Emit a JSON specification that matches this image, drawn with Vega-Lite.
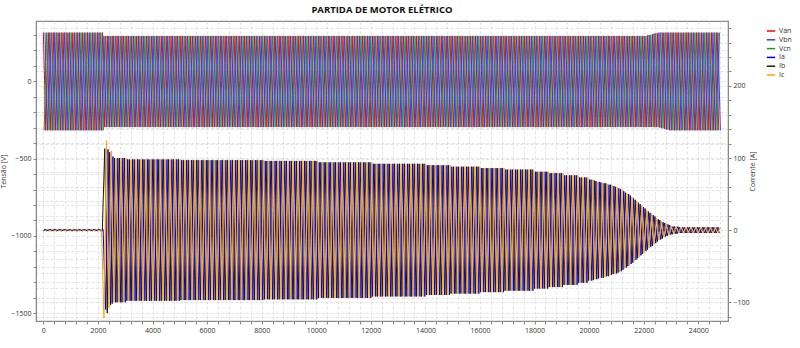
{
"$schema": "https://vega.github.io/schema/vega-lite/v6.json",
"width": 692, "height": 300,
"autosize": {"type": "none"},
"padding": {"left": 36, "top": 21, "right": 72, "bottom": 27},
"background": "white",
"title": {"text": "PARTIDA DE MOTOR ELÉTRICO", "fontSize": 9.5, "font": "Open Sans", "fontWeight": "bold", "color": "#111", "anchor": "middle", "offset": 7},
"config": {
  "view": {"stroke": "#8a8a8a", "strokeWidth": 1.2},
  "axis": {"labelFont": "Open Sans", "labelFontSize": 7, "labelColor": "#333", "titleFont": "Open Sans", "titleFontSize": 7, "titleFontWeight": "normal", "titleColor": "#333", "tickColor": "#8a8a8a", "tickSize": 3, "domainColor": "#8a8a8a", "gridColor": "#dcdcdc", "gridDash": [3, 2], "gridWidth": 0.8, "labelOverlap": false, "labelFlush": false, "labelPadding": 2}
},
"data": {"values": [
{"t":0,"Van":315,"Ib":-1},{"t":30,"Vcn":-317,"Ia":1},{"t":60,"Vbn":315,"Ic":-1},{"t":90,"Van":-317,"Ib":1},{"t":120,"Vcn":315,"Ia":-1},{"t":150,"Vbn":-317,"Ic":1},
{"t":180,"Van":315,"Ib":-1},{"t":210,"Vcn":-317,"Ia":1},{"t":240,"Vbn":315,"Ic":-1},{"t":270,"Van":-317,"Ib":1},{"t":300,"Vcn":315,"Ia":-1},{"t":330,"Vbn":-317,"Ic":1},
{"t":360,"Van":315,"Ib":-1},{"t":390,"Vcn":-317,"Ia":1},{"t":420,"Vbn":315,"Ic":-1},{"t":450,"Van":-317,"Ib":1},{"t":480,"Vcn":315,"Ia":-1},{"t":510,"Vbn":-317,"Ic":1},
{"t":540,"Van":315,"Ib":-1},{"t":570,"Vcn":-317,"Ia":1},{"t":600,"Vbn":315,"Ic":-1},{"t":630,"Van":-317,"Ib":1},{"t":660,"Vcn":315,"Ia":-1},{"t":690,"Vbn":-317,"Ic":1},
{"t":720,"Van":315,"Ib":-1},{"t":750,"Vcn":-317,"Ia":1},{"t":780,"Vbn":315,"Ic":-1},{"t":810,"Van":-317,"Ib":1},{"t":840,"Vcn":315,"Ia":-1},{"t":870,"Vbn":-317,"Ic":1},
{"t":900,"Van":315,"Ib":-1},{"t":930,"Vcn":-317,"Ia":1},{"t":960,"Vbn":315,"Ic":-1},{"t":990,"Van":-317,"Ib":1},{"t":1020,"Vcn":315,"Ia":-1},{"t":1050,"Vbn":-317,"Ic":1},
{"t":1080,"Van":315,"Ib":-1},{"t":1110,"Vcn":-317,"Ia":1},{"t":1140,"Vbn":315,"Ic":-1},{"t":1170,"Van":-317,"Ib":1},{"t":1200,"Vcn":315,"Ia":-1},{"t":1230,"Vbn":-317,"Ic":1},
{"t":1260,"Van":315,"Ib":-1},{"t":1290,"Vcn":-317,"Ia":1},{"t":1320,"Vbn":315,"Ic":-1},{"t":1350,"Van":-317,"Ib":1},{"t":1380,"Vcn":315,"Ia":-1},{"t":1410,"Vbn":-317,"Ic":1},
{"t":1440,"Van":315,"Ib":-1},{"t":1470,"Vcn":-317,"Ia":1},{"t":1500,"Vbn":315,"Ic":-1},{"t":1530,"Van":-317,"Ib":1},{"t":1560,"Vcn":315,"Ia":-1},{"t":1590,"Vbn":-317,"Ic":1},
{"t":1620,"Van":315,"Ib":-1},{"t":1650,"Vcn":-317,"Ia":1},{"t":1680,"Vbn":315,"Ic":-1},{"t":1710,"Van":-317,"Ib":1},{"t":1740,"Vcn":315,"Ia":-1},{"t":1770,"Vbn":-317,"Ic":1},
{"t":1800,"Van":315,"Ib":-1},{"t":1830,"Vcn":-317,"Ia":1},{"t":1860,"Vbn":315,"Ic":-1},{"t":1890,"Van":-317,"Ib":1},{"t":1920,"Vcn":315,"Ia":-1},{"t":1950,"Vbn":-317,"Ic":1},
{"t":1980,"Van":315,"Ib":-1},{"t":2010,"Vcn":-317,"Ia":1},{"t":2040,"Vbn":315,"Ic":-1},{"t":2070,"Van":-317,"Ib":1},{"t":2100,"Vcn":315,"Ia":-1},{"t":2130,"Vbn":-317,"Ic":1},
{"t":2160,"Van":315,"Ib":-1},{"t":2190,"Vcn":-317,"Ia":1},{"t":2220,"Vbn":293,"Ic":-122},{"t":2250,"Van":-296,"Ib":113},{"t":2280,"Vcn":293,"Ia":-110},{"t":2310,"Vbn":-296,"Ic":124},
{"t":2340,"Van":293,"Ib":-115},{"t":2370,"Vcn":-296,"Ia":112},{"t":2400,"Vbn":293,"Ic":-108},{"t":2430,"Van":-296,"Ib":108},{"t":2460,"Vcn":293,"Ia":-104},{"t":2490,"Vbn":-296,"Ic":110},
{"t":2520,"Van":293,"Ib":-102},{"t":2550,"Vcn":-296,"Ia":102},{"t":2580,"Vbn":293,"Ic":-100},{"t":2610,"Van":-296,"Ib":100},{"t":2640,"Vcn":293,"Ia":-100},{"t":2670,"Vbn":-296,"Ic":100},
{"t":2700,"Van":293,"Ib":-100},{"t":2730,"Vcn":-296,"Ia":100},{"t":2760,"Vbn":293,"Ic":-100},{"t":2790,"Van":-296,"Ib":100},{"t":2820,"Vcn":293,"Ia":-100},{"t":2850,"Vbn":-296,"Ic":100},
{"t":2880,"Van":293,"Ib":-100},{"t":2910,"Vcn":-296,"Ia":100},{"t":2940,"Vbn":293,"Ic":-100},{"t":2970,"Van":-296,"Ib":100},{"t":3000,"Vcn":293,"Ia":-100},{"t":3030,"Vbn":-296,"Ic":100},
{"t":3060,"Van":293,"Ib":-98},{"t":3090,"Vcn":-296,"Ia":98},{"t":3120,"Vbn":293,"Ic":-98},{"t":3150,"Van":-296,"Ib":98},{"t":3180,"Vcn":293,"Ia":-98},{"t":3210,"Vbn":-296,"Ic":98},
{"t":3240,"Van":293,"Ib":-98},{"t":3270,"Vcn":-296,"Ia":98},{"t":3300,"Vbn":293,"Ic":-98},{"t":3330,"Van":-296,"Ib":98},{"t":3360,"Vcn":293,"Ia":-98},{"t":3390,"Vbn":-296,"Ic":98},
{"t":3420,"Van":293,"Ib":-98},{"t":3450,"Vcn":-296,"Ia":98},{"t":3480,"Vbn":293,"Ic":-98},{"t":3510,"Van":-296,"Ib":98},{"t":3540,"Vcn":293,"Ia":-98},{"t":3570,"Vbn":-296,"Ic":98},
{"t":3600,"Van":293,"Ib":-98},{"t":3630,"Vcn":-296,"Ia":98},{"t":3660,"Vbn":293,"Ic":-98},{"t":3690,"Van":-296,"Ib":98},{"t":3720,"Vcn":293,"Ia":-98},{"t":3750,"Vbn":-296,"Ic":98},
{"t":3780,"Van":293,"Ib":-98},{"t":3810,"Vcn":-296,"Ia":98},{"t":3840,"Vbn":293,"Ic":-98},{"t":3870,"Van":-296,"Ib":98},{"t":3900,"Vcn":293,"Ia":-98},{"t":3930,"Vbn":-296,"Ic":98},
{"t":3960,"Van":293,"Ib":-98},{"t":3990,"Vcn":-296,"Ia":98},{"t":4020,"Vbn":293,"Ic":-98},{"t":4050,"Van":-296,"Ib":98},{"t":4080,"Vcn":293,"Ia":-98},{"t":4110,"Vbn":-296,"Ic":98},
{"t":4140,"Van":293,"Ib":-98},{"t":4170,"Vcn":-296,"Ia":98},{"t":4200,"Vbn":293,"Ic":-98},{"t":4230,"Van":-296,"Ib":98},{"t":4260,"Vcn":293,"Ia":-98},{"t":4290,"Vbn":-296,"Ic":98},
{"t":4320,"Van":293,"Ib":-98},{"t":4350,"Vcn":-296,"Ia":98},{"t":4380,"Vbn":293,"Ic":-98},{"t":4410,"Van":-296,"Ib":98},{"t":4440,"Vcn":293,"Ia":-98},{"t":4470,"Vbn":-296,"Ic":98},
{"t":4500,"Van":293,"Ib":-98},{"t":4530,"Vcn":-296,"Ia":98},{"t":4560,"Vbn":293,"Ic":-98},{"t":4590,"Van":-296,"Ib":98},{"t":4620,"Vcn":293,"Ia":-98},{"t":4650,"Vbn":-296,"Ic":98},
{"t":4680,"Van":293,"Ib":-98},{"t":4710,"Vcn":-296,"Ia":98},{"t":4740,"Vbn":293,"Ic":-98},{"t":4770,"Van":-296,"Ib":98},{"t":4800,"Vcn":293,"Ia":-98},{"t":4830,"Vbn":-296,"Ic":98},
{"t":4860,"Van":293,"Ib":-98},{"t":4890,"Vcn":-296,"Ia":98},{"t":4920,"Vbn":293,"Ic":-98},{"t":4950,"Van":-296,"Ib":98},{"t":4980,"Vcn":293,"Ia":-98},{"t":5010,"Vbn":-296,"Ic":98},
{"t":5040,"Van":293,"Ib":-97},{"t":5070,"Vcn":-296,"Ia":97},{"t":5100,"Vbn":293,"Ic":-97},{"t":5130,"Van":-296,"Ib":97},{"t":5160,"Vcn":293,"Ia":-97},{"t":5190,"Vbn":-296,"Ic":97},
{"t":5220,"Van":293,"Ib":-97},{"t":5250,"Vcn":-296,"Ia":97},{"t":5280,"Vbn":293,"Ic":-97},{"t":5310,"Van":-296,"Ib":97},{"t":5340,"Vcn":293,"Ia":-97},{"t":5370,"Vbn":-296,"Ic":97},
{"t":5400,"Van":293,"Ib":-97},{"t":5430,"Vcn":-296,"Ia":97},{"t":5460,"Vbn":293,"Ic":-97},{"t":5490,"Van":-296,"Ib":97},{"t":5520,"Vcn":293,"Ia":-97},{"t":5550,"Vbn":-296,"Ic":97},
{"t":5580,"Van":293,"Ib":-97},{"t":5610,"Vcn":-296,"Ia":97},{"t":5640,"Vbn":293,"Ic":-97},{"t":5670,"Van":-296,"Ib":97},{"t":5700,"Vcn":293,"Ia":-97},{"t":5730,"Vbn":-296,"Ic":97},
{"t":5760,"Van":293,"Ib":-97},{"t":5790,"Vcn":-296,"Ia":97},{"t":5820,"Vbn":293,"Ic":-97},{"t":5850,"Van":-296,"Ib":97},{"t":5880,"Vcn":293,"Ia":-97},{"t":5910,"Vbn":-296,"Ic":97},
{"t":5940,"Van":293,"Ib":-97},{"t":5970,"Vcn":-296,"Ia":97},{"t":6000,"Vbn":293,"Ic":-97},{"t":6030,"Van":-296,"Ib":97},{"t":6060,"Vcn":293,"Ia":-97},{"t":6090,"Vbn":-296,"Ic":97},
{"t":6120,"Van":293,"Ib":-97},{"t":6150,"Vcn":-296,"Ia":97},{"t":6180,"Vbn":293,"Ic":-97},{"t":6210,"Van":-296,"Ib":97},{"t":6240,"Vcn":293,"Ia":-97},{"t":6270,"Vbn":-296,"Ic":97},
{"t":6300,"Van":293,"Ib":-97},{"t":6330,"Vcn":-296,"Ia":97},{"t":6360,"Vbn":293,"Ic":-97},{"t":6390,"Van":-296,"Ib":97},{"t":6420,"Vcn":293,"Ia":-97},{"t":6450,"Vbn":-296,"Ic":97},
{"t":6480,"Van":293,"Ib":-97},{"t":6510,"Vcn":-296,"Ia":97},{"t":6540,"Vbn":293,"Ic":-97},{"t":6570,"Van":-296,"Ib":97},{"t":6600,"Vcn":293,"Ia":-97},{"t":6630,"Vbn":-296,"Ic":97},
{"t":6660,"Van":293,"Ib":-97},{"t":6690,"Vcn":-296,"Ia":97},{"t":6720,"Vbn":293,"Ic":-97},{"t":6750,"Van":-296,"Ib":97},{"t":6780,"Vcn":293,"Ia":-97},{"t":6810,"Vbn":-296,"Ic":97},
{"t":6840,"Van":293,"Ib":-97},{"t":6870,"Vcn":-296,"Ia":97},{"t":6900,"Vbn":293,"Ic":-97},{"t":6930,"Van":-296,"Ib":97},{"t":6960,"Vcn":293,"Ia":-97},{"t":6990,"Vbn":-296,"Ic":97},
{"t":7020,"Van":293,"Ib":-97},{"t":7050,"Vcn":-296,"Ia":97},{"t":7080,"Vbn":293,"Ic":-97},{"t":7110,"Van":-296,"Ib":97},{"t":7140,"Vcn":293,"Ia":-97},{"t":7170,"Vbn":-296,"Ic":97},
{"t":7200,"Van":293,"Ib":-97},{"t":7230,"Vcn":-296,"Ia":97},{"t":7260,"Vbn":293,"Ic":-97},{"t":7290,"Van":-296,"Ib":97},{"t":7320,"Vcn":293,"Ia":-97},{"t":7350,"Vbn":-296,"Ic":97},
{"t":7380,"Van":293,"Ib":-97},{"t":7410,"Vcn":-296,"Ia":97},{"t":7440,"Vbn":293,"Ic":-97},{"t":7470,"Van":-296,"Ib":97},{"t":7500,"Vcn":293,"Ia":-97},{"t":7530,"Vbn":-296,"Ic":97},
{"t":7560,"Van":293,"Ib":-97},{"t":7590,"Vcn":-296,"Ia":97},{"t":7620,"Vbn":293,"Ic":-97},{"t":7650,"Van":-296,"Ib":97},{"t":7680,"Vcn":293,"Ia":-97},{"t":7710,"Vbn":-296,"Ic":97},
{"t":7740,"Van":293,"Ib":-97},{"t":7770,"Vcn":-296,"Ia":97},{"t":7800,"Vbn":293,"Ic":-97},{"t":7830,"Van":-296,"Ib":97},{"t":7860,"Vcn":293,"Ia":-97},{"t":7890,"Vbn":-296,"Ic":97},
{"t":7920,"Van":293,"Ib":-97},{"t":7950,"Vcn":-296,"Ia":97},{"t":7980,"Vbn":293,"Ic":-97},{"t":8010,"Van":-296,"Ib":97},{"t":8040,"Vcn":293,"Ia":-97},{"t":8070,"Vbn":-296,"Ic":97},
{"t":8100,"Van":293,"Ib":-96},{"t":8130,"Vcn":-296,"Ia":96},{"t":8160,"Vbn":293,"Ic":-96},{"t":8190,"Van":-296,"Ib":96},{"t":8220,"Vcn":293,"Ia":-96},{"t":8250,"Vbn":-296,"Ic":96},
{"t":8280,"Van":293,"Ib":-96},{"t":8310,"Vcn":-296,"Ia":96},{"t":8340,"Vbn":293,"Ic":-96},{"t":8370,"Van":-296,"Ib":96},{"t":8400,"Vcn":293,"Ia":-96},{"t":8430,"Vbn":-296,"Ic":96},
{"t":8460,"Van":293,"Ib":-96},{"t":8490,"Vcn":-296,"Ia":96},{"t":8520,"Vbn":293,"Ic":-96},{"t":8550,"Van":-296,"Ib":96},{"t":8580,"Vcn":293,"Ia":-96},{"t":8610,"Vbn":-296,"Ic":96},
{"t":8640,"Van":293,"Ib":-96},{"t":8670,"Vcn":-296,"Ia":96},{"t":8700,"Vbn":293,"Ic":-96},{"t":8730,"Van":-296,"Ib":96},{"t":8760,"Vcn":293,"Ia":-96},{"t":8790,"Vbn":-296,"Ic":96},
{"t":8820,"Van":293,"Ib":-96},{"t":8850,"Vcn":-296,"Ia":96},{"t":8880,"Vbn":293,"Ic":-96},{"t":8910,"Van":-296,"Ib":96},{"t":8940,"Vcn":293,"Ia":-96},{"t":8970,"Vbn":-296,"Ic":96},
{"t":9000,"Van":293,"Ib":-96},{"t":9030,"Vcn":-296,"Ia":96},{"t":9060,"Vbn":293,"Ic":-96},{"t":9090,"Van":-296,"Ib":96},{"t":9120,"Vcn":293,"Ia":-96},{"t":9150,"Vbn":-296,"Ic":96},
{"t":9180,"Van":293,"Ib":-96},{"t":9210,"Vcn":-296,"Ia":96},{"t":9240,"Vbn":293,"Ic":-96},{"t":9270,"Van":-296,"Ib":96},{"t":9300,"Vcn":293,"Ia":-96},{"t":9330,"Vbn":-296,"Ic":96},
{"t":9360,"Van":293,"Ib":-96},{"t":9390,"Vcn":-296,"Ia":96},{"t":9420,"Vbn":293,"Ic":-96},{"t":9450,"Van":-296,"Ib":96},{"t":9480,"Vcn":293,"Ia":-96},{"t":9510,"Vbn":-296,"Ic":96},
{"t":9540,"Van":293,"Ib":-96},{"t":9570,"Vcn":-296,"Ia":96},{"t":9600,"Vbn":293,"Ic":-96},{"t":9630,"Van":-296,"Ib":96},{"t":9660,"Vcn":293,"Ia":-96},{"t":9690,"Vbn":-296,"Ic":96},
{"t":9720,"Van":293,"Ib":-96},{"t":9750,"Vcn":-296,"Ia":96},{"t":9780,"Vbn":293,"Ic":-96},{"t":9810,"Van":-296,"Ib":96},{"t":9840,"Vcn":293,"Ia":-96},{"t":9870,"Vbn":-296,"Ic":96},
{"t":9900,"Van":293,"Ib":-96},{"t":9930,"Vcn":-296,"Ia":96},{"t":9960,"Vbn":293,"Ic":-96},{"t":9990,"Van":-296,"Ib":96},{"t":10020,"Vcn":293,"Ia":-96},{"t":10050,"Vbn":-296,"Ic":96},
{"t":10080,"Van":293,"Ib":-94},{"t":10110,"Vcn":-296,"Ia":94},{"t":10140,"Vbn":293,"Ic":-94},{"t":10170,"Van":-296,"Ib":94},{"t":10200,"Vcn":293,"Ia":-94},{"t":10230,"Vbn":-296,"Ic":94},
{"t":10260,"Van":293,"Ib":-94},{"t":10290,"Vcn":-296,"Ia":94},{"t":10320,"Vbn":293,"Ic":-94},{"t":10350,"Van":-296,"Ib":94},{"t":10380,"Vcn":293,"Ia":-94},{"t":10410,"Vbn":-296,"Ic":94},
{"t":10440,"Van":293,"Ib":-94},{"t":10470,"Vcn":-296,"Ia":94},{"t":10500,"Vbn":293,"Ic":-94},{"t":10530,"Van":-296,"Ib":94},{"t":10560,"Vcn":293,"Ia":-94},{"t":10590,"Vbn":-296,"Ic":94},
{"t":10620,"Van":293,"Ib":-94},{"t":10650,"Vcn":-296,"Ia":94},{"t":10680,"Vbn":293,"Ic":-94},{"t":10710,"Van":-296,"Ib":94},{"t":10740,"Vcn":293,"Ia":-94},{"t":10770,"Vbn":-296,"Ic":94},
{"t":10800,"Van":293,"Ib":-94},{"t":10830,"Vcn":-296,"Ia":94},{"t":10860,"Vbn":293,"Ic":-94},{"t":10890,"Van":-296,"Ib":94},{"t":10920,"Vcn":293,"Ia":-94},{"t":10950,"Vbn":-296,"Ic":94},
{"t":10980,"Van":293,"Ib":-94},{"t":11010,"Vcn":-296,"Ia":94},{"t":11040,"Vbn":293,"Ic":-94},{"t":11070,"Van":-296,"Ib":94},{"t":11100,"Vcn":293,"Ia":-94},{"t":11130,"Vbn":-296,"Ic":94},
{"t":11160,"Van":293,"Ib":-94},{"t":11190,"Vcn":-296,"Ia":94},{"t":11220,"Vbn":293,"Ic":-94},{"t":11250,"Van":-296,"Ib":94},{"t":11280,"Vcn":293,"Ia":-94},{"t":11310,"Vbn":-296,"Ic":94},
{"t":11340,"Van":293,"Ib":-94},{"t":11370,"Vcn":-296,"Ia":94},{"t":11400,"Vbn":293,"Ic":-94},{"t":11430,"Van":-296,"Ib":94},{"t":11460,"Vcn":293,"Ia":-94},{"t":11490,"Vbn":-296,"Ic":94},
{"t":11520,"Van":293,"Ib":-94},{"t":11550,"Vcn":-296,"Ia":94},{"t":11580,"Vbn":293,"Ic":-94},{"t":11610,"Van":-296,"Ib":94},{"t":11640,"Vcn":293,"Ia":-94},{"t":11670,"Vbn":-296,"Ic":94},
{"t":11700,"Van":293,"Ib":-94},{"t":11730,"Vcn":-296,"Ia":94},{"t":11760,"Vbn":293,"Ic":-94},{"t":11790,"Van":-296,"Ib":94},{"t":11820,"Vcn":293,"Ia":-94},{"t":11850,"Vbn":-296,"Ic":94},
{"t":11880,"Van":293,"Ib":-94},{"t":11910,"Vcn":-296,"Ia":94},{"t":11940,"Vbn":293,"Ic":-94},{"t":11970,"Van":-296,"Ib":94},{"t":12000,"Vcn":293,"Ia":-94},{"t":12030,"Vbn":-296,"Ic":94},
{"t":12060,"Van":293,"Ib":-92},{"t":12090,"Vcn":-296,"Ia":92},{"t":12120,"Vbn":293,"Ic":-92},{"t":12150,"Van":-296,"Ib":92},{"t":12180,"Vcn":293,"Ia":-92},{"t":12210,"Vbn":-296,"Ic":92},
{"t":12240,"Van":293,"Ib":-92},{"t":12270,"Vcn":-296,"Ia":92},{"t":12300,"Vbn":293,"Ic":-92},{"t":12330,"Van":-296,"Ib":92},{"t":12360,"Vcn":293,"Ia":-92},{"t":12390,"Vbn":-296,"Ic":92},
{"t":12420,"Van":293,"Ib":-92},{"t":12450,"Vcn":-296,"Ia":92},{"t":12480,"Vbn":293,"Ic":-92},{"t":12510,"Van":-296,"Ib":92},{"t":12540,"Vcn":293,"Ia":-92},{"t":12570,"Vbn":-296,"Ic":92},
{"t":12600,"Van":293,"Ib":-92},{"t":12630,"Vcn":-296,"Ia":92},{"t":12660,"Vbn":293,"Ic":-92},{"t":12690,"Van":-296,"Ib":92},{"t":12720,"Vcn":293,"Ia":-92},{"t":12750,"Vbn":-296,"Ic":92},
{"t":12780,"Van":293,"Ib":-92},{"t":12810,"Vcn":-296,"Ia":92},{"t":12840,"Vbn":293,"Ic":-92},{"t":12870,"Van":-296,"Ib":92},{"t":12900,"Vcn":293,"Ia":-92},{"t":12930,"Vbn":-296,"Ic":92},
{"t":12960,"Van":293,"Ib":-92},{"t":12990,"Vcn":-296,"Ia":92},{"t":13020,"Vbn":293,"Ic":-92},{"t":13050,"Van":-296,"Ib":92},{"t":13080,"Vcn":293,"Ia":-92},{"t":13110,"Vbn":-296,"Ic":92},
{"t":13140,"Van":293,"Ib":-92},{"t":13170,"Vcn":-296,"Ia":92},{"t":13200,"Vbn":293,"Ic":-92},{"t":13230,"Van":-296,"Ib":92},{"t":13260,"Vcn":293,"Ia":-92},{"t":13290,"Vbn":-296,"Ic":92},
{"t":13320,"Van":293,"Ib":-92},{"t":13350,"Vcn":-296,"Ia":92},{"t":13380,"Vbn":293,"Ic":-92},{"t":13410,"Van":-296,"Ib":92},{"t":13440,"Vcn":293,"Ia":-92},{"t":13470,"Vbn":-296,"Ic":92},
{"t":13500,"Van":293,"Ib":-92},{"t":13530,"Vcn":-296,"Ia":92},{"t":13560,"Vbn":293,"Ic":-92},{"t":13590,"Van":-296,"Ib":92},{"t":13620,"Vcn":293,"Ia":-92},{"t":13650,"Vbn":-296,"Ic":92},
{"t":13680,"Van":293,"Ib":-92},{"t":13710,"Vcn":-296,"Ia":92},{"t":13740,"Vbn":293,"Ic":-92},{"t":13770,"Van":-296,"Ib":92},{"t":13800,"Vcn":293,"Ia":-92},{"t":13830,"Vbn":-296,"Ic":92},
{"t":13860,"Van":293,"Ib":-92},{"t":13890,"Vcn":-296,"Ia":92},{"t":13920,"Vbn":293,"Ic":-92},{"t":13950,"Van":-296,"Ib":92},{"t":13980,"Vcn":293,"Ia":-92},{"t":14010,"Vbn":-296,"Ic":92},
{"t":14040,"Van":293,"Ib":-90},{"t":14070,"Vcn":-296,"Ia":90},{"t":14100,"Vbn":293,"Ic":-90},{"t":14130,"Van":-296,"Ib":90},{"t":14160,"Vcn":293,"Ia":-90},{"t":14190,"Vbn":-296,"Ic":90},
{"t":14220,"Van":293,"Ib":-90},{"t":14250,"Vcn":-296,"Ia":90},{"t":14280,"Vbn":293,"Ic":-90},{"t":14310,"Van":-296,"Ib":90},{"t":14340,"Vcn":293,"Ia":-90},{"t":14370,"Vbn":-296,"Ic":90},
{"t":14400,"Van":293,"Ib":-90},{"t":14430,"Vcn":-296,"Ia":90},{"t":14460,"Vbn":293,"Ic":-90},{"t":14490,"Van":-296,"Ib":90},{"t":14520,"Vcn":293,"Ia":-90},{"t":14550,"Vbn":-296,"Ic":90},
{"t":14580,"Van":293,"Ib":-90},{"t":14610,"Vcn":-296,"Ia":90},{"t":14640,"Vbn":293,"Ic":-90},{"t":14670,"Van":-296,"Ib":90},{"t":14700,"Vcn":293,"Ia":-90},{"t":14730,"Vbn":-296,"Ic":90},
{"t":14760,"Van":293,"Ib":-90},{"t":14790,"Vcn":-296,"Ia":90},{"t":14820,"Vbn":293,"Ic":-90},{"t":14850,"Van":-296,"Ib":90},{"t":14880,"Vcn":293,"Ia":-90},{"t":14910,"Vbn":-296,"Ic":90},
{"t":14940,"Van":293,"Ib":-88},{"t":14970,"Vcn":-296,"Ia":88},{"t":15000,"Vbn":293,"Ic":-88},{"t":15030,"Van":-296,"Ib":88},{"t":15060,"Vcn":293,"Ia":-88},{"t":15090,"Vbn":-296,"Ic":88},
{"t":15120,"Van":293,"Ib":-88},{"t":15150,"Vcn":-296,"Ia":88},{"t":15180,"Vbn":293,"Ic":-88},{"t":15210,"Van":-296,"Ib":88},{"t":15240,"Vcn":293,"Ia":-88},{"t":15270,"Vbn":-296,"Ic":88},
{"t":15300,"Van":293,"Ib":-88},{"t":15330,"Vcn":-296,"Ia":88},{"t":15360,"Vbn":293,"Ic":-88},{"t":15390,"Van":-296,"Ib":88},{"t":15420,"Vcn":293,"Ia":-88},{"t":15450,"Vbn":-296,"Ic":88},
{"t":15480,"Van":293,"Ib":-88},{"t":15510,"Vcn":-296,"Ia":88},{"t":15540,"Vbn":293,"Ic":-88},{"t":15570,"Van":-296,"Ib":88},{"t":15600,"Vcn":293,"Ia":-88},{"t":15630,"Vbn":-296,"Ic":88},
{"t":15660,"Van":293,"Ib":-88},{"t":15690,"Vcn":-296,"Ia":88},{"t":15720,"Vbn":293,"Ic":-88},{"t":15750,"Van":-296,"Ib":88},{"t":15780,"Vcn":293,"Ia":-88},{"t":15810,"Vbn":-296,"Ic":88},
{"t":15840,"Van":293,"Ib":-88},{"t":15870,"Vcn":-296,"Ia":88},{"t":15900,"Vbn":293,"Ic":-88},{"t":15930,"Van":-296,"Ib":88},{"t":15960,"Vcn":293,"Ia":-88},{"t":15990,"Vbn":-296,"Ic":88},
{"t":16020,"Van":293,"Ib":-86},{"t":16050,"Vcn":-296,"Ia":86},{"t":16080,"Vbn":293,"Ic":-86},{"t":16110,"Van":-296,"Ib":86},{"t":16140,"Vcn":293,"Ia":-86},{"t":16170,"Vbn":-296,"Ic":86},
{"t":16200,"Van":293,"Ib":-86},{"t":16230,"Vcn":-296,"Ia":86},{"t":16260,"Vbn":293,"Ic":-86},{"t":16290,"Van":-296,"Ib":86},{"t":16320,"Vcn":293,"Ia":-86},{"t":16350,"Vbn":-296,"Ic":86},
{"t":16380,"Van":293,"Ib":-86},{"t":16410,"Vcn":-296,"Ia":86},{"t":16440,"Vbn":293,"Ic":-86},{"t":16470,"Van":-296,"Ib":86},{"t":16500,"Vcn":293,"Ia":-86},{"t":16530,"Vbn":-296,"Ic":86},
{"t":16560,"Van":293,"Ib":-86},{"t":16590,"Vcn":-296,"Ia":86},{"t":16620,"Vbn":293,"Ic":-86},{"t":16650,"Van":-296,"Ib":86},{"t":16680,"Vcn":293,"Ia":-86},{"t":16710,"Vbn":-296,"Ic":86},
{"t":16740,"Van":293,"Ib":-86},{"t":16770,"Vcn":-296,"Ia":86},{"t":16800,"Vbn":293,"Ic":-86},{"t":16830,"Van":-296,"Ib":86},{"t":16860,"Vcn":293,"Ia":-86},{"t":16890,"Vbn":-296,"Ic":86},
{"t":16920,"Van":293,"Ib":-84},{"t":16950,"Vcn":-296,"Ia":84},{"t":16980,"Vbn":293,"Ic":-84},{"t":17010,"Van":-296,"Ib":84},{"t":17040,"Vcn":293,"Ia":-84},{"t":17070,"Vbn":-296,"Ic":84},
{"t":17100,"Van":293,"Ib":-84},{"t":17130,"Vcn":-296,"Ia":84},{"t":17160,"Vbn":293,"Ic":-84},{"t":17190,"Van":-296,"Ib":84},{"t":17220,"Vcn":293,"Ia":-84},{"t":17250,"Vbn":-296,"Ic":84},
{"t":17280,"Van":293,"Ib":-84},{"t":17310,"Vcn":-296,"Ia":84},{"t":17340,"Vbn":293,"Ic":-84},{"t":17370,"Van":-296,"Ib":84},{"t":17400,"Vcn":293,"Ia":-84},{"t":17430,"Vbn":-296,"Ic":84},
{"t":17460,"Van":293,"Ib":-84},{"t":17490,"Vcn":-296,"Ia":84},{"t":17520,"Vbn":293,"Ic":-84},{"t":17550,"Van":-296,"Ib":84},{"t":17580,"Vcn":293,"Ia":-84},{"t":17610,"Vbn":-296,"Ic":84},
{"t":17640,"Van":293,"Ib":-84},{"t":17670,"Vcn":-296,"Ia":84},{"t":17700,"Vbn":293,"Ic":-84},{"t":17730,"Van":-296,"Ib":84},{"t":17760,"Vcn":293,"Ia":-84},{"t":17790,"Vbn":-296,"Ic":84},
{"t":17820,"Van":293,"Ib":-84},{"t":17850,"Vcn":-296,"Ia":84},{"t":17880,"Vbn":293,"Ic":-84},{"t":17910,"Van":-296,"Ib":84},{"t":17940,"Vcn":293,"Ia":-84},{"t":17970,"Vbn":-296,"Ic":84},
{"t":18000,"Van":293,"Ib":-81},{"t":18030,"Vcn":-296,"Ia":81},{"t":18060,"Vbn":293,"Ic":-81},{"t":18090,"Van":-296,"Ib":81},{"t":18120,"Vcn":293,"Ia":-81},{"t":18150,"Vbn":-296,"Ic":81},
{"t":18180,"Van":293,"Ib":-81},{"t":18210,"Vcn":-296,"Ia":81},{"t":18240,"Vbn":293,"Ic":-81},{"t":18270,"Van":-296,"Ib":81},{"t":18300,"Vcn":293,"Ia":-81},{"t":18330,"Vbn":-296,"Ic":81},
{"t":18360,"Van":293,"Ib":-81},{"t":18390,"Vcn":-296,"Ia":81},{"t":18420,"Vbn":293,"Ic":-81},{"t":18450,"Van":-296,"Ib":81},{"t":18480,"Vcn":293,"Ia":-81},{"t":18510,"Vbn":-296,"Ic":81},
{"t":18540,"Van":293,"Ib":-79},{"t":18570,"Vcn":-296,"Ia":79},{"t":18600,"Vbn":293,"Ic":-79},{"t":18630,"Van":-296,"Ib":79},{"t":18660,"Vcn":293,"Ia":-79},{"t":18690,"Vbn":-296,"Ic":79},
{"t":18720,"Van":293,"Ib":-79},{"t":18750,"Vcn":-296,"Ia":79},{"t":18780,"Vbn":293,"Ic":-79},{"t":18810,"Van":-296,"Ib":79},{"t":18840,"Vcn":293,"Ia":-79},{"t":18870,"Vbn":-296,"Ic":79},
{"t":18900,"Van":293,"Ib":-79},{"t":18930,"Vcn":-296,"Ia":79},{"t":18960,"Vbn":293,"Ic":-79},{"t":18990,"Van":-296,"Ib":79},{"t":19020,"Vcn":293,"Ia":-79},{"t":19050,"Vbn":-296,"Ic":79},
{"t":19080,"Van":293,"Ib":-76},{"t":19110,"Vcn":-296,"Ia":76},{"t":19140,"Vbn":293,"Ic":-76},{"t":19170,"Van":-296,"Ib":76},{"t":19200,"Vcn":293,"Ia":-76},{"t":19230,"Vbn":-296,"Ic":76},
{"t":19260,"Van":293,"Ib":-76},{"t":19290,"Vcn":-296,"Ia":76},{"t":19320,"Vbn":293,"Ic":-76},{"t":19350,"Van":-296,"Ib":76},{"t":19380,"Vcn":293,"Ia":-76},{"t":19410,"Vbn":-296,"Ic":76},
{"t":19440,"Van":293,"Ib":-76},{"t":19470,"Vcn":-296,"Ia":76},{"t":19500,"Vbn":293,"Ic":-76},{"t":19530,"Van":-296,"Ib":76},{"t":19560,"Vcn":293,"Ia":-76},{"t":19590,"Vbn":-296,"Ic":76},
{"t":19620,"Van":293,"Ib":-73},{"t":19650,"Vcn":-296,"Ia":73},{"t":19680,"Vbn":293,"Ic":-73},{"t":19710,"Van":-296,"Ib":73},{"t":19740,"Vcn":293,"Ia":-73},{"t":19770,"Vbn":-296,"Ic":73},
{"t":19800,"Van":293,"Ib":-73},{"t":19830,"Vcn":-296,"Ia":73},{"t":19860,"Vbn":293,"Ic":-73},{"t":19890,"Van":-296,"Ib":73},{"t":19920,"Vcn":293,"Ia":-73},{"t":19950,"Vbn":-296,"Ic":73},
{"t":19980,"Van":293,"Ib":-70},{"t":20010,"Vcn":-296,"Ia":70},{"t":20040,"Vbn":293,"Ic":-70},{"t":20070,"Van":-296,"Ib":70},{"t":20100,"Vcn":293,"Ia":-70},{"t":20130,"Vbn":-296,"Ic":70},
{"t":20160,"Van":293,"Ib":-69},{"t":20190,"Vcn":-296,"Ia":69},{"t":20220,"Vbn":293,"Ic":-68},{"t":20250,"Van":-296,"Ib":68},{"t":20280,"Vcn":293,"Ia":-68},{"t":20310,"Vbn":-296,"Ic":67},
{"t":20340,"Van":293,"Ib":-67},{"t":20370,"Vcn":-296,"Ia":67},{"t":20400,"Vbn":293,"Ic":-66},{"t":20430,"Van":-296,"Ib":66},{"t":20460,"Vcn":293,"Ia":-66},{"t":20490,"Vbn":-296,"Ic":66},
{"t":20520,"Van":293,"Ib":-66},{"t":20550,"Vcn":-296,"Ia":65},{"t":20580,"Vbn":293,"Ic":-65},{"t":20610,"Van":-296,"Ib":65},{"t":20640,"Vcn":293,"Ia":-64},{"t":20670,"Vbn":-296,"Ic":64},
{"t":20700,"Van":293,"Ib":-64},{"t":20730,"Vcn":-296,"Ia":63},{"t":20760,"Vbn":293,"Ic":-63},{"t":20790,"Van":-296,"Ib":63},{"t":20820,"Vcn":293,"Ia":-62},{"t":20850,"Vbn":-296,"Ic":62},
{"t":20880,"Van":293,"Ib":-61},{"t":20910,"Vcn":-296,"Ia":61},{"t":20940,"Vbn":293,"Ic":-61},{"t":20970,"Van":-296,"Ib":60},{"t":21000,"Vcn":293,"Ia":-60},{"t":21030,"Vbn":-296,"Ic":59},
{"t":21060,"Van":293,"Ib":-59},{"t":21090,"Vcn":-296,"Ia":58},{"t":21120,"Vbn":293,"Ic":-58},{"t":21150,"Van":-296,"Ib":57},{"t":21180,"Vcn":293,"Ia":-57},{"t":21210,"Vbn":-296,"Ic":56},
{"t":21240,"Van":293,"Ib":-55},{"t":21270,"Vcn":-296,"Ia":54},{"t":21300,"Vbn":293,"Ic":-53},{"t":21330,"Van":-296,"Ib":52},{"t":21360,"Vcn":293,"Ia":-52},{"t":21390,"Vbn":-296,"Ic":51},
{"t":21420,"Van":293,"Ib":-50},{"t":21450,"Vcn":-296,"Ia":50},{"t":21480,"Vbn":293,"Ic":-49},{"t":21510,"Van":-296,"Ib":48},{"t":21540,"Vcn":293,"Ia":-47},{"t":21570,"Vbn":-296,"Ic":46},
{"t":21600,"Van":293,"Ib":-45},{"t":21630,"Vcn":-296,"Ia":44},{"t":21660,"Vbn":293,"Ic":-43},{"t":21690,"Van":-296,"Ib":42},{"t":21720,"Vcn":293,"Ia":-41},{"t":21750,"Vbn":-296,"Ic":40},
{"t":21780,"Van":293,"Ib":-39},{"t":21810,"Vcn":-296,"Ia":38},{"t":21840,"Vbn":293,"Ic":-37},{"t":21870,"Van":-296,"Ib":36},{"t":21900,"Vcn":293,"Ia":-35},{"t":21930,"Vbn":-296,"Ic":34},
{"t":21960,"Van":293,"Ib":-33},{"t":21990,"Vcn":-296,"Ia":32},{"t":22020,"Vbn":293,"Ic":-31},{"t":22050,"Van":-296,"Ib":30},{"t":22080,"Vcn":293,"Ia":-29},{"t":22110,"Vbn":-296,"Ic":28},
{"t":22140,"Van":296,"Ib":-27},{"t":22170,"Vcn":-296,"Ia":26},{"t":22200,"Vbn":300,"Ic":-25},{"t":22230,"Van":-296,"Ib":24},{"t":22260,"Vcn":300,"Ia":-23},{"t":22290,"Vbn":-296,"Ic":23},
{"t":22320,"Van":305,"Ib":-22},{"t":22350,"Vcn":-296,"Ia":21},{"t":22380,"Vbn":309,"Ic":-20},{"t":22410,"Van":-296,"Ib":19},{"t":22440,"Vcn":309,"Ia":-18},{"t":22470,"Vbn":-296,"Ic":17},
{"t":22500,"Van":312,"Ib":-16},{"t":22530,"Vcn":-296,"Ia":15},{"t":22560,"Vbn":315,"Ic":-14},{"t":22590,"Van":-299,"Ib":14},{"t":22620,"Vcn":315,"Ia":-13},{"t":22650,"Vbn":-303,"Ic":12},
{"t":22680,"Van":315,"Ib":-12},{"t":22710,"Vcn":-303,"Ia":11},{"t":22740,"Vbn":315,"Ic":-10},{"t":22770,"Van":-308,"Ib":10},{"t":22800,"Vcn":315,"Ia":-9},{"t":22830,"Vbn":-312,"Ic":9},
{"t":22860,"Van":315,"Ib":-8},{"t":22890,"Vcn":-312,"Ia":8},{"t":22920,"Vbn":315,"Ic":-7},{"t":22950,"Van":-317,"Ib":7},{"t":22980,"Vcn":315,"Ia":-6},{"t":23010,"Vbn":-317,"Ic":6},
{"t":23040,"Van":315,"Ib":-6},{"t":23070,"Vcn":-317,"Ia":5},{"t":23100,"Vbn":315,"Ic":-5},{"t":23130,"Van":-317,"Ib":5},{"t":23160,"Vcn":315,"Ia":-5},{"t":23190,"Vbn":-317,"Ic":5},
{"t":23220,"Van":315,"Ib":-5},{"t":23250,"Vcn":-317,"Ia":5},{"t":23280,"Vbn":315,"Ic":-4},{"t":23310,"Van":-317,"Ib":4},{"t":23340,"Vcn":315,"Ia":-4},{"t":23370,"Vbn":-317,"Ic":4},
{"t":23400,"Van":315,"Ib":-4},{"t":23430,"Vcn":-317,"Ia":4},{"t":23460,"Vbn":315,"Ic":-4},{"t":23490,"Van":-317,"Ib":4},{"t":23520,"Vcn":315,"Ia":-4},{"t":23550,"Vbn":-317,"Ic":4},
{"t":23580,"Van":315,"Ib":-4},{"t":23610,"Vcn":-317,"Ia":4},{"t":23640,"Vbn":315,"Ic":-4},{"t":23670,"Van":-317,"Ib":4},{"t":23700,"Vcn":315,"Ia":-4},{"t":23730,"Vbn":-317,"Ic":4},
{"t":23760,"Van":315,"Ib":-4},{"t":23790,"Vcn":-317,"Ia":4},{"t":23820,"Vbn":315,"Ic":-4},{"t":23850,"Van":-317,"Ib":4},{"t":23880,"Vcn":315,"Ia":-4},{"t":23910,"Vbn":-317,"Ic":4},
{"t":23940,"Van":315,"Ib":-4},{"t":23970,"Vcn":-317,"Ia":4},{"t":24000,"Vbn":315,"Ic":-4},{"t":24030,"Van":-317,"Ib":4},{"t":24060,"Vcn":315,"Ia":-4},{"t":24090,"Vbn":-317,"Ic":4},
{"t":24120,"Van":315,"Ib":-4},{"t":24150,"Vcn":-317,"Ia":4},{"t":24180,"Vbn":315,"Ic":-4},{"t":24210,"Van":-317,"Ib":4},{"t":24240,"Vcn":315,"Ia":-4},{"t":24270,"Vbn":-317,"Ic":4},
{"t":24300,"Van":315,"Ib":-4},{"t":24330,"Vcn":-317,"Ia":4},{"t":24360,"Vbn":315,"Ic":-4},{"t":24390,"Van":-317,"Ib":4},{"t":24420,"Vcn":315,"Ia":-4},{"t":24450,"Vbn":-317,"Ic":4},
{"t":24480,"Van":315,"Ib":-4},{"t":24510,"Vcn":-317,"Ia":4},{"t":24540,"Vbn":315,"Ic":-4},{"t":24570,"Van":-317,"Ib":4},{"t":24600,"Vcn":315,"Ia":-4},{"t":24630,"Vbn":-317,"Ic":4},
{"t":24660,"Van":315,"Ib":-4},{"t":24690,"Vcn":-317,"Ia":4},{"t":24720,"Vbn":315,"Ic":-4},{"t":24750,"Van":-317,"Ib":4},{"t":24780,"Vcn":315,"Ia":-4},{"t":24810,"Vbn":-317,"Ic":4}
]},
"encoding": {
  "x": {"field": "t", "type": "quantitative", "scale": {"domain": [-270, 25090], "nice": false, "zero": false},
    "axis": {"title": null, "format": "d", "grid": true, "values": [0,400,800,1200,1600,2000,2400,2800,3200,3600,4000,4400,4800,5200,5600,6000,6400,6800,7200,7600,8000,8400,8800,9200,9600,10000,10400,10800,11200,11600,12000,12400,12800,13200,13600,14000,14400,14800,15200,15600,16000,16400,16800,17200,17600,18000,18400,18800,19200,19600,20000,20400,20800,21200,21600,22000,22400,22800,23200,23600,24000,24400,24800], "labelExpr": "datum.value % 2000 === 0 ? datum.label : ''"}}
},
"layer": [
  {
    "transform": [{"fold": ["Van", "Vbn", "Vcn"], "as": ["s", "v"]}, {"filter": "isValid(datum.v)"}],
    "mark": {"type": "line", "strokeWidth": 1, "clip": true},
    "encoding": {
      "y": {"field": "v", "type": "quantitative", "scale": {"domain": [-1550, 390], "nice": false, "zero": false},
        "axis": {"orient": "left", "title": "Tensão [V]", "format": "d", "grid": true, "titlePadding": 4, "values": [-1500,-1400,-1300,-1200,-1100,-1000,-900,-800,-700,-600,-500,-400,-300,-200,-100,0,100,200,300], "labelExpr": "datum.value % 500 === 0 ? datum.label : ''"}},
      "color": {"field": "s", "type": "nominal",
        "scale": {"domain": ["Van", "Vbn", "Vcn", "Ia", "Ib", "Ic"], "range": ["#ff0000", "#3a3aff", "#1e9a1e", "#0000ee", "#1a1a1a", "#ffa500"]},
        "legend": {"orient": "none", "legendX": 730, "legendY": 5, "title": null, "symbolType": "stroke", "symbolSize": 70, "symbolStrokeWidth": 1.5, "labelFont": "Open Sans", "labelFontSize": 7, "labelColor": "#333", "rowPadding": 0.8, "labelOffset": 3}}
    }
  },
  {
    "transform": [{"fold": ["Ia", "Ib", "Ic"], "as": ["s", "v"]}, {"filter": "isValid(datum.v)"}],
    "mark": {"type": "line", "strokeWidth": 1, "clip": true},
    "encoding": {
      "y": {"field": "v", "type": "quantitative", "scale": {"domain": [-126, 290], "nice": false, "zero": false},
        "axis": {"orient": "right", "title": "Corrente [A]", "titleAngle": -90, "format": "d", "grid": true, "titlePadding": 6, "values": [-120,-100,-80,-60,-40,-20,0,20,40,60,80,100,120,140,160,180,200,220,240,260,280], "labelExpr": "datum.value % 100 === 0 ? datum.label : ''"}},
      "color": {"field": "s", "type": "nominal"}
    }
  }
],
"resolve": {"scale": {"y": "independent"}}
}
